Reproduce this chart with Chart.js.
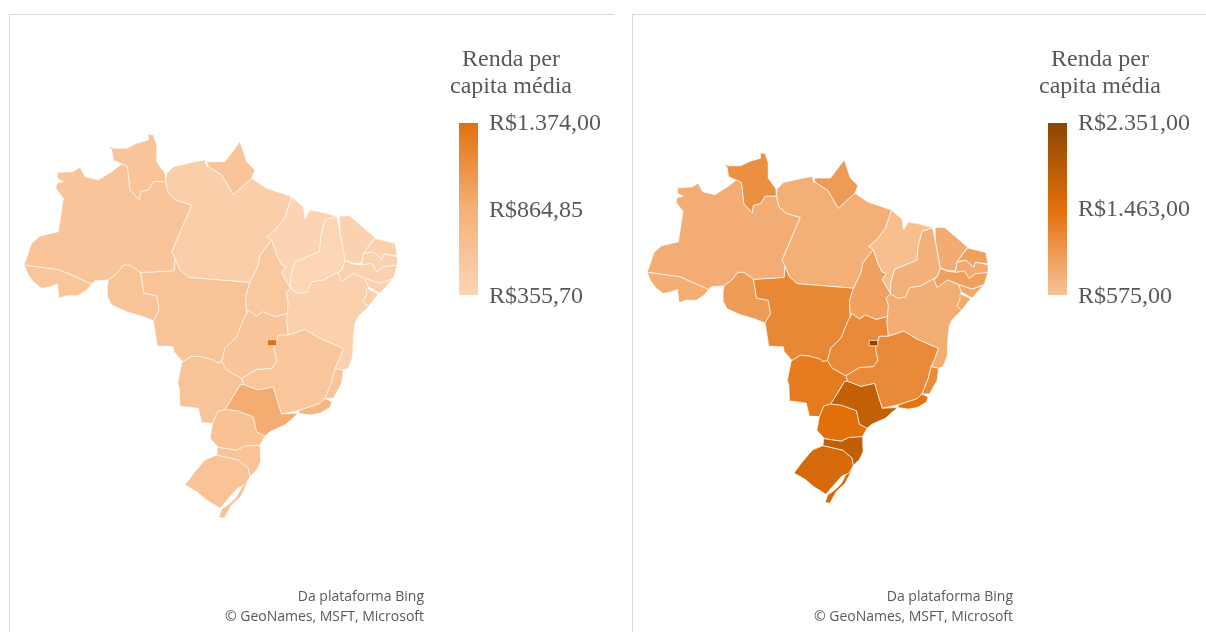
<!DOCTYPE html>
<html>
<head>
<meta charset="utf-8">
<title>Renda per capita média</title>
<script src="https://cdn.jsdelivr.net/npm/chart.js@4"></script>
<style>
    html, body { margin: 0; padding: 0; background: #fff; overflow: hidden; }
    .painel { position: absolute; top: 14px; height: 618px; border-top: 1px solid #d9d9d9; border-left: 1px solid #d9d9d9; box-sizing: border-box; }
    #painelEsq { left: 9px; width: 605px; }
    #painelDir { left: 632px; width: 574px; }
</style>
</head>
<body>
<div class="painel" id="painelEsq"><canvas id="mapaEsq"></canvas></div>
<div class="painel" id="painelDir"><canvas id="mapaDir"></canvas></div>
<script>
// state order, DF first so it is drawn on top of GO
const estados = ['DF','AC','AM','RR','PA','AP','MA','PI','CE','RN','PB','PE','AL','SE','BA','TO','GO','MT','RO','MS','MG','ES','RJ','SP','PR','SC','RS','RS2'];

// income per state, estimated from the fill colours against the legend
const rendaEsq = [1374,580,590,590,450,590,375,356,400,420,400,430,420,440,430,540,590,600,600,600,570,590,780,900,620,610,610,610];
const rendaDir = [2351,800,806,1130,790,1000,630,780,830,950,840,950,850,850,810,930,1180,1200,1000,1330,1180,1170,1420,1790,1463,1810,1590,1590];

// legend scale
const escalaEsq = [355.70, 864.85, 1374.00];
const escalaDir = [575, 1463, 2351];
const rotulosEsq = ['R$1.374,00', 'R$864,85', 'R$355,70'];
const rotulosDir = ['R$2.351,00', 'R$1.463,00', 'R$575,00'];
const titulo = ['Renda per', 'capita média'];
const rodape = ['Da plataforma Bing', '© GeoNames, MSFT, Microsoft'];

// state outlines, in map grid units (x right, y down)
const DF = [[802,659],[830,659],[830,677],[802,677]];
const AC = [[72,435],[180,450],[275,492],[260,510],[235,527],[200,527],[177,535],[172,492],[150,500],[125,505],[100,485],[85,465]];
const AM = [[72,435],[78,420],[95,370],[120,348],[175,335],[185,270],[190,235],[168,205],[170,190],[190,185],[172,175],[172,157],[220,155],[240,142],[255,170],[295,180],[335,155],[365,132],[382,140],[390,210],[418,240],[422,215],[445,210],[460,185],[497,185],[505,220],[530,242],[575,255],[515,395],[525,415],[522,452],[422,458],[390,435],[370,435],[350,460],[325,480],[285,482],[275,492],[180,450]];
const RR = [[325,78],[340,85],[380,85],[410,70],[445,60],[445,42],[460,45],[470,75],[470,125],[495,160],[497,185],[460,185],[445,210],[422,215],[418,240],[390,210],[382,140],[365,132],[340,120],[335,90]];
const PA = [[500,160],[520,140],[585,125],[615,120],[620,140],[625,140],[665,165],[700,225],[755,175],[800,205],[875,230],[855,290],[825,330],[800,350],[815,360],[780,405],[775,435],[750,487],[565,472],[540,450],[525,415],[515,395],[575,255],[530,242],[505,220],[497,185]];
const AP = [[620,125],[675,125],[720,65],[740,125],[765,150],[755,175],[700,225],[665,165],[625,140]];
const MA = [[875,230],[910,260],[915,295],[930,270],[960,275],[1010,288],[975,300],[962,350],[958,395],[885,425],[872,470],[872,505],[845,460],[858,438],[845,435],[830,405],[815,360],[800,350],[825,330],[855,290]];
const PI = [[1010,288],[1020,340],[1035,420],[1025,450],[970,480],[935,485],[920,517],[895,520],[872,505],[872,470],[885,425],[958,395],[962,350],[975,300]];
const CE = [[1018,288],[1050,288],[1125,352],[1090,400],[1085,430],[1060,430],[1035,420],[1020,340]];
const RN = [[1125,355],[1185,370],[1192,407],[1150,402],[1145,418],[1120,395],[1090,400]];
const PB = [[1090,402],[1120,395],[1145,418],[1150,402],[1192,410],[1192,435],[1150,440],[1130,455],[1115,430],[1085,435]];
const PE = [[1035,422],[1060,432],[1085,435],[1115,430],[1130,455],[1150,440],[1192,435],[1180,475],[1140,490],[1095,475],[1060,460],[1025,485],[1015,460],[1025,450]];
const AL = [[1095,475],[1140,490],[1178,477],[1140,520],[1105,500]];
const SE = [[1100,505],[1135,522],[1105,560],[1090,545],[1100,525]];
const BA = [[858,520],[872,505],[895,520],[920,517],[935,485],[970,480],[1025,450],[1015,460],[1025,485],[1060,460],[1095,475],[1105,500],[1100,525],[1090,545],[1105,560],[1075,590],[1065,610],[1060,660],[1058,710],[1045,745],[1030,750],[1005,745],[1015,725],[1030,685],[960,655],[915,628],[865,645],[860,600],[862,580],[865,545]];
const TO = [[815,360],[830,405],[845,435],[858,438],[845,460],[872,505],[858,520],[865,545],[862,580],[825,590],[790,575],[770,588],[745,570],[740,580],[737,530],[750,487],[775,435],[780,405]];
const GO = [[745,570],[770,588],[790,575],[825,590],[862,580],[860,600],[865,645],[835,645],[822,685],[830,725],[815,745],[770,748],[725,775],[680,750],[665,725],[675,685],[710,650],[730,600],[740,580]];
const MT = [[422,458],[522,452],[525,415],[540,450],[565,472],[750,487],[737,530],[740,580],[730,600],[710,650],[675,685],[665,725],[648,728],[640,720],[605,710],[575,708],[548,725],[522,695],[520,680],[472,678],[460,602],[478,570],[470,527],[432,520]];
const RO = [[322,500],[325,480],[350,460],[370,435],[390,435],[422,458],[432,520],[470,527],[478,570],[460,602],[430,590],[380,575],[335,555],[322,530]];
const MS = [[548,725],[575,708],[605,710],[640,720],[648,728],[665,725],[680,750],[725,775],[730,793],[720,795],[690,845],[675,868],[652,875],[638,910],[605,908],[595,865],[540,858],[538,805],[533,790],[545,730]];
const MG = [[865,645],[915,628],[960,655],[1030,685],[1015,725],[1005,745],[995,785],[975,835],[960,850],[900,870],[845,882],[830,835],[820,800],[775,810],[730,793],[725,775],[770,748],[815,745],[830,725],[822,685],[835,645]];
const ES = [[1005,745],[1030,750],[1025,790],[1000,835],[975,835],[995,785]];
const RJ = [[975,835],[995,845],[990,862],[960,880],[930,885],[895,880],[900,870],[960,850]];
const SP = [[730,793],[775,810],[820,800],[830,835],[845,882],[895,880],[855,915],[810,935],[795,948],[770,935],[760,890],[710,872],[675,868],[690,845],[720,795]];
const PR = [[652,875],[675,868],[710,872],[760,890],[770,935],[795,948],[780,975],[735,978],[710,990],[655,982],[630,955],[638,910]];
const SC = [[652,982],[710,990],[735,978],[780,975],[782,1025],[770,1050],[750,1070],[745,1045],[715,1020],[650,1005]];
const RS = [[650,1005],[715,1020],[745,1045],[750,1070],[735,1095],[712,1105],[690,1130],[660,1165],[620,1140],[590,1115],[555,1095],[585,1055],[615,1020]];
const RS2 = [[748,1075],[735,1105],[722,1130],[695,1155],[672,1195],[657,1192],[665,1168],[690,1150],[710,1130],[725,1102]];
const contornos = {DF,AC,AM,RR,PA,AP,MA,PI,CE,RN,PB,PE,AL,SE,BA,TO,GO,MT,RO,MS,MG,ES,RJ,SP,PR,SC,RS,RS2};

function hexRgb(hex) {
    return [1, 3, 5].map(i => parseInt(hex.substr(i, 2), 16));
}

// value -> colour along the three legend stops
function corDaRenda(v, escala, cores) {
    var i = v <= escala[1] ? 0 : 1;
    var t = Math.min(1, Math.max(0, (v - escala[i]) / (escala[i + 1] - escala[i])));
    var a = hexRgb(cores[i]), b = hexRgb(cores[i + 1]);
    return 'rgb(' + a.map((c, k) => Math.round(c + (b[k] - c) * t)).join(',') + ')';
}

// legend, title and source line
function legendaPlugin(cfg) {
    return {
        id: 'legendaMapa',
        afterDraw(chart) {
            const ctx = chart.ctx;
            const x = cfg.legendaX;
            ctx.save();
            const grad = ctx.createLinearGradient(0, 108, 0, 280);
            grad.addColorStop(0, cfg.cores[2]);
            grad.addColorStop(0.5, cfg.cores[1]);
            grad.addColorStop(1, cfg.cores[0]);
            ctx.fillStyle = grad;
            ctx.fillRect(x, 108, 19, 172);

            ctx.fillStyle = '#595959';
            ctx.font = '24px "Liberation Serif"';
            ctx.textAlign = 'center';
            ctx.fillText(titulo[0], x + 52, 51);
            ctx.fillText(titulo[1], x + 52, 78);
            ctx.textAlign = 'left';
            ctx.fillText(cfg.rotulos[0], x + 30, 115);
            ctx.fillText(cfg.rotulos[1], x + 30, cfg.meioY);
            ctx.fillText(cfg.rotulos[2], x + 30, 288);

            ctx.font = '14px "Open Sans"';
            ctx.textAlign = 'right';
            ctx.fillText(rodape[0], x - 35, 586);
            ctx.fillText(rodape[1], x - 35, 606);
            ctx.restore();
        }
    };
}

function desenhaMapa(id, cfg) {
    const datasets = estados.map((uf, i) => {
        const pts = contornos[uf].concat([contornos[uf][0]]);
        const cor = corDaRenda(cfg.renda[i], cfg.escala, cfg.cores);
        return {
            label: uf,
            data: pts.map(p => ({x: p[0], y: p[1]})),
            showLine: true,
            fill: 'shape',
            backgroundColor: cor,
            borderColor: cfg.borda,
            borderWidth: 1,
            pointRadius: 0,
            // a tiny tension keeps Chart.js off its fast path, which assumes sorted x
            tension: 0.0001
        };
    });
    new Chart(document.getElementById(id), {
        type: 'scatter',
        data: {datasets},
        options: {
            responsive: true,
            maintainAspectRatio: false,
            animation: false,
            layout: {padding: 0},
            plugins: {legend: {display: false}, tooltip: {enabled: false}},
            scales: {
                x: {type: 'linear', display: false, min: cfg.xMin, max: cfg.xMax},
                y: {type: 'linear', display: false, min: cfg.yMin, max: cfg.yMax, reverse: true}
            }
        },
        plugins: [legendaPlugin(cfg)]
    });
}

desenhaMapa('mapaEsq', {
    renda: rendaEsq, escala: escalaEsq, rotulos: rotulosEsq,
    cores: ['#FCD5B5', '#F5B078', '#E3700F'], borda: 'rgba(255,255,255,0.6)',
    xMin: 30, xMax: 1842, yMin: -315, yMax: 1536, legendaX: 449, meioY: 202
});
desenhaMapa('mapaDir', {
    renda: rendaDir, escala: escalaDir, rotulos: rotulosDir,
    cores: ['#F8C399', '#E36F0A', '#8A4605'], borda: 'rgba(255,255,255,0.7)',
    xMin: 26, xMax: 1908, yMin: -411, yMax: 1618, legendaX: 415, meioY: 201
});
</script>
</body>
</html>
